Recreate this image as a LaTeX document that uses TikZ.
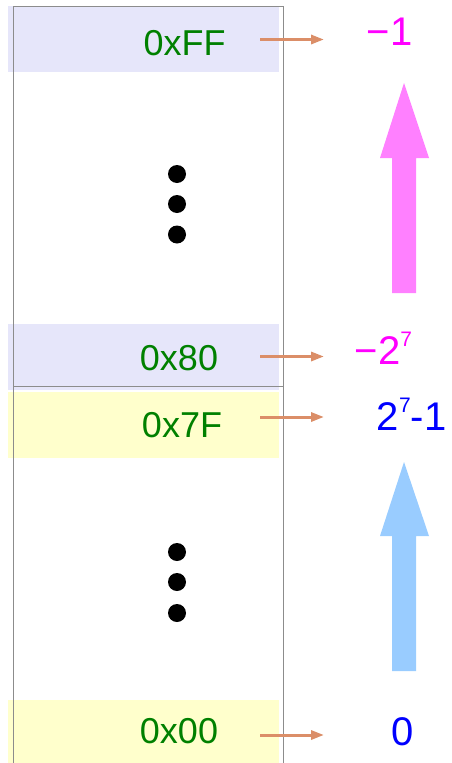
\documentclass[tikz,border=0pt]{standalone}
\usepackage{fontspec}
\setmainfont{Liberation Sans}
\usetikzlibrary{arrows.meta}
\definecolor{lav}{RGB}{230,230,250}
\definecolor{lyel}{RGB}{255,255,204}
\definecolor{hexgreen}{RGB}{0,128,0}
\definecolor{valmag}{RGB}{255,0,255}
\definecolor{valblue}{RGB}{0,0,255}
\definecolor{arrorange}{RGB}{219,142,104}
\definecolor{bigmag}{RGB}{255,128,255}
\definecolor{bigblue}{RGB}{153,204,255}
\definecolor{framegray}{RGB}{140,140,140}
\tikzset{
  cell/.style={draw=none, inner sep=0pt, minimum width=271pt, minimum height=66pt},
  hexlbl/.style={anchor=base, inner sep=0pt, text=hexgreen, font=\fontsize{36}{40}\selectfont},
  vallbl/.style={anchor=base, inner sep=0pt, font=\fontsize{40}{44}\selectfont},
  maparrow/.style={draw=arrorange, line width=3pt, -{Triangle[length=13pt,width=9pt]}},
  dot/.style={circle, fill=black, inner sep=0pt, minimum size=18pt},
  framel/.style={draw=framegray, line width=1pt}
}
\newcommand{\supsev}{\raisebox{18pt}{\fontsize{21}{21}\selectfont 7}}
\begin{document}
\begin{tikzpicture}[x=1pt,y=-1pt]
\useasboundingbox (0,0) rectangle (451,763);
% cells
\node[cell, fill=lav]  (bFF) at (143.5,39) {};
\node[cell, fill=lav]  (b80) at (143.5,357) {};
\node[cell, fill=lyel] (b7F) at (143.5,425) {};
\node[cell, fill=lyel, minimum height=68pt] (b00) at (143.5,734) {};
% frame
\draw[framel] (13,763) -- (13,6) -- (283,6) -- (283,763);
\draw[framel] (13,386) -- (283,386);
% hex labels
\node[hexlbl] (tFF) at (184.5,55) {0xFF};
\node[hexlbl] (t80) at (179,370) {0x80};
\node[hexlbl] (t7F) at (182,437) {0x7F};
\node[hexlbl] (t00) at (179,743) {0x00};
% value labels
\node[vallbl, text=valmag] (vFF) at (389.5,45) {−1};
\node[vallbl, text=valmag] (v80) at (383.5,364) {−2\supsev};
\node[vallbl, text=valblue] (v7F) at (411.5,430) {2\supsev-1};
\node[vallbl, text=valblue] (v00) at (402.5,745) {0};
% mapping arrows
\coordinate (sFF) at (260,39.5);
\coordinate (eFF) at (324,39.5);
\coordinate (s80) at (260,356.5);
\coordinate (e80) at (324,356.5);
\coordinate (s7F) at (260,417);
\coordinate (e7F) at (324,417);
\coordinate (s00) at (260,735);
\coordinate (e00) at (324,735);
\draw[maparrow] (sFF) -- (eFF);
\draw[maparrow] (s80) -- (e80);
\draw[maparrow] (s7F) -- (e7F);
\draw[maparrow] (s00) -- (e00);
% dots
\node[dot] (d1) at (177,174) {};
\node[dot] (d2) at (177,204) {};
\node[dot] (d3) at (177,234.5) {};
\node[dot] (d4) at (177,552) {};
\node[dot] (d5) at (177,582) {};
\node[dot] (d6) at (177,613) {};
% big arrows
\fill[bigmag] (392,293) -- (392,158) -- (380,158) -- (404,83) -- (429,158) -- (416,158) -- (416,293) -- cycle;
\fill[bigblue] (392,671) -- (392,536) -- (380,536) -- (404,462) -- (429,536) -- (416,536) -- (416,671) -- cycle;
\end{tikzpicture}
\end{document}
